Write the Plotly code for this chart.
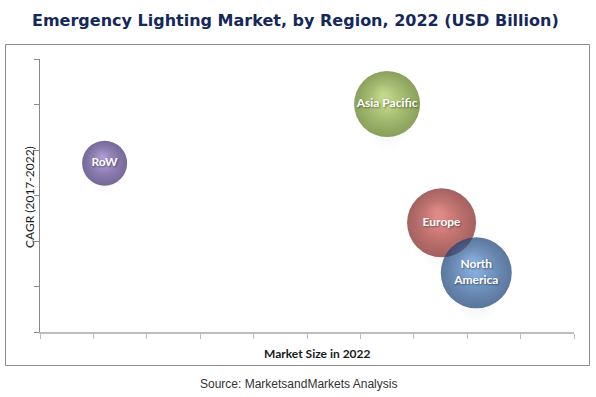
import plotly.graph_objects as go

# ---- data ----
regions = ["RoW", "Asia Pacific", "Europe", "North America"]
labels = ["RoW", "Asia Pacific", "Europe", "North<br>America"]
market_size = [1.21, 6.50, 7.52, 8.17]
cagr = [3.71, 5.01, 2.40, 1.30]
bubble_size = [45, 66, 69, 71]

# styling per region
edge_colors = ["#3b2a6c", "#587818", "#7c1e1c", "#163d72"]
mid_colors = ["#7e64b6", "#a0c44e", "#d24f4a", "#4a84cc"]
hi_rgb = ["200,188,240", "226,244,168", "246,170,162", "172,208,248"]

W, H = 596, 397
L, R, T, B = 40, 574, 59, 332
XMAX, YMAX = 10, 6

def px2x(px):
    return (px - L) / (R - L)

def py2y(py):
    return (B - py) / (B - T)

ux = XMAX / (R - L)  # data units per pixel
uy = YMAX / (B - T)

fig = go.Figure()

# faint shadow beneath (plotly radial gradient: gradient.color = center)
fig.add_trace(go.Scatter(
    x=market_size, y=[c - s * 0.40 * uy for c, s in zip(cagr, bubble_size)],
    mode="markers",
    marker=dict(size=[s * 0.6 for s in bubble_size], color="rgba(160,160,160,0)",
                gradient=dict(type="radial", color="rgba(160,160,160,0.18)"), line=dict(width=0)),
    hoverinfo="skip", showlegend=False))

# base spheres: dark edge, brighter center
fig.add_trace(go.Scatter(
    x=market_size, y=cagr, mode="markers",
    marker=dict(size=bubble_size, color=edge_colors,
                gradient=dict(type="radial", color=mid_colors), line=dict(width=0)),
    hoverinfo="skip", showlegend=False))

# highlight layers (soft, offset towards the top)
for f, a in [(0.7, 0.3), (0.35, 0.4)]:
    fig.add_trace(go.Scatter(
        x=[m - s * 0.06 * ux for m, s in zip(market_size, bubble_size)],
        y=[c + s * 0.15 * uy for c, s in zip(cagr, bubble_size)],
        mode="markers",
        marker=dict(size=[s * f for s in bubble_size],
                    color=["rgba(%s,0)" % h for h in hi_rgb],
                    gradient=dict(type="radial", color=["rgba(%s,%.2f)" % (h, a) for h in hi_rgb]),
                    line=dict(width=0)),
        hoverinfo="skip", showlegend=False))

# labels
fig.add_trace(go.Scatter(
    x=market_size, y=cagr, mode="text", text=labels, textposition="middle center",
    textfont=dict(family="Lato", size=12, color="white", weight="bold",
                  shadow="1px 1px 2px rgba(0,0,0,0.45)"),
    hoverinfo="skip", showlegend=False, cliponaxis=False))

fig.update_xaxes(range=[0, XMAX], showgrid=False, zeroline=False, showticklabels=False,
                 showline=True, linecolor="#bdbdbd", linewidth=2,
                 ticks="outside", tickcolor="#bdbdbd", ticklen=5, tickwidth=1, dtick=1, tick0=0)
fig.update_yaxes(range=[0, YMAX], showgrid=False, zeroline=False, showticklabels=False,
                 showline=True, linecolor="#8a8a8a", linewidth=1,
                 ticks="outside", tickcolor="#8a8a8a", ticklen=5, tickwidth=1, dtick=1, tick0=0)

fig.add_shape(type="rect", xref="paper", yref="paper",
              x0=px2x(5.5), x1=px2x(589.5), y0=py2y(365.5), y1=py2y(44.5),
              line=dict(color="#8c8c8c", width=1), layer="below")

fig.add_annotation(text="<b>Emergency Lighting Market, by Region, 2022 (USD Billion)</b>",
                   xref="paper", yref="paper", x=px2x(295), y=py2y(20), showarrow=False,
                   xanchor="center", yanchor="middle",
                   font=dict(family="DejaVu Sans", size=16, color="#14295a"))
fig.add_annotation(text="CAGR (2017-2022)", xref="paper", yref="paper",
                   x=px2x(29), y=py2y(197), textangle=-90, showarrow=False,
                   xanchor="center", yanchor="middle",
                   font=dict(family="Lato", size=12, color="#1a1a1a"))
fig.add_annotation(text="<b>Market Size in 2022</b>", xref="paper", yref="paper",
                   x=px2x(317), y=py2y(353), showarrow=False, xanchor="center", yanchor="middle",
                   font=dict(family="Lato", size=12, color="#1a1a1a"))
fig.add_annotation(text="Source: MarketsandMarkets Analysis", xref="paper", yref="paper",
                   x=px2x(298), y=py2y(384), showarrow=False, xanchor="center", yanchor="middle",
                   font=dict(family="Liberation Sans", size=12, color="#333333"))

fig.update_layout(width=W, height=H, margin=dict(l=L, r=W - R, t=T, b=H - B),
                  plot_bgcolor="white", paper_bgcolor="white", showlegend=False)

fig.write_html("out.html", config={"displayModeBar": False},
               post_script="document.body.style.margin='0';document.body.style.padding='0';")
